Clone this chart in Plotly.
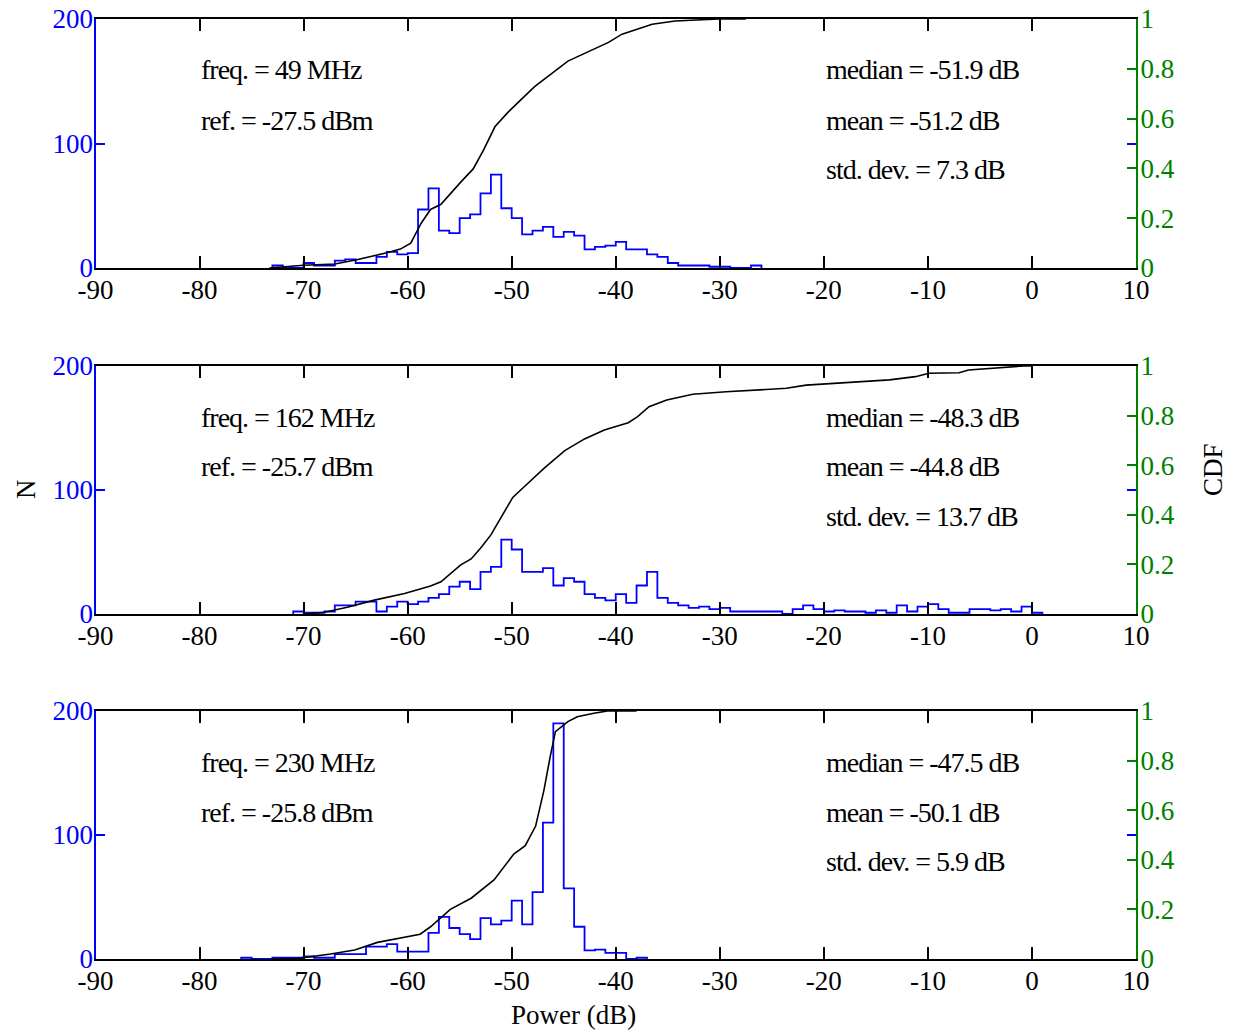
import numpy as np
import plotly.graph_objects as go

# ---------------- data ----------------
bin_width = 1.0
hist1_start = -73
hist1_counts = [2, 0, 0, 4, 2, 2, 6, 7, 4, 4, 9, 13, 11, 12, 47, 64, 30, 28, 40, 43, 60, 75,
                48, 40, 27, 30, 33, 25, 29, 26, 15, 17, 18, 21, 15, 15, 11, 9, 4, 2, 2, 2,
                1, 1, 0, 0, 2]
hist2_start = -71
hist2_counts = [2, 1, 1, 2, 7, 7, 10, 10, 2, 6, 10, 8, 10, 13, 16, 22, 26, 20, 34, 38, 60, 52,
                34, 34, 37, 23, 29, 26, 16, 13, 11, 16, 9, 23, 34, 13, 9, 7, 5, 6, 4, 5,
                2, 2, 2, 2, 2, 0, 4, 7, 4, 2, 3, 2, 2, 1, 3, 1, 7, 2, 6, 8, 4, 1, 1,
                4, 4, 3, 4, 2, 6, 1]
hist3_start = -76
hist3_counts = [1, 0, 0, 1, 1, 1, 2, 1, 1, 4, 4, 4, 10, 10, 12, 6, 6, 6, 21, 34, 25, 20, 16,
                33, 28, 31, 47, 28, 54, 110, 190, 57, 26, 7, 7.5, 5, 5, 0, 1]

cdf1_x = [-73.3, -70, -67, -65, -62, -60.7, -59.7, -58.7, -57.8, -56.8, -54.9, -53.7, -52.7,
          -51.6, -50.3, -47.8, -44.6, -42.6, -40.7, -39.4, -37.5, -36.5, -34.3, -32.4, -30.1, -27.5]
cdf1_y = [0, 0.011, 0.016, 0.032, 0.061, 0.076, 0.1, 0.18, 0.235, 0.256, 0.345, 0.398, 0.474,
          0.568, 0.628, 0.728, 0.831, 0.869, 0.906, 0.939, 0.965, 0.979, 0.992, 0.997, 1.0, 1.0]
cdf2_x = [-70, -68, -65.8, -63.2, -60.3, -57.8, -56.8, -54.9, -53.9, -53, -52, -51, -49.9, -48.8,
          -46.9, -44.9, -43, -41.1, -38.8, -37.9, -36.8, -35.1, -32.6, -29.4, -23.6, -21.7,
          -17.9, -13.7, -11.2, -9.9, -7, -6.1, -0.8, 0]
cdf2_y = [0, 0.007, 0.027, 0.056, 0.083, 0.113, 0.13, 0.198, 0.222, 0.265, 0.319, 0.392, 0.47,
          0.513, 0.587, 0.659, 0.706, 0.742, 0.771, 0.796, 0.836, 0.863, 0.886, 0.896, 0.91,
          0.923, 0.934, 0.944, 0.957, 0.971, 0.973, 0.984, 1.0, 1.0]
cdf3_x = [-73, -70.6, -67.4, -65.1, -62.9, -61.3, -58.8, -57.8, -55.9, -53.9, -51.7, -49.8, -48.7,
          -47.7, -46.9, -46.3, -45.8, -44.6, -43.7, -42.1, -40.8, -38]
cdf3_y = [0, 0.002, 0.02, 0.036, 0.067, 0.081, 0.1, 0.13, 0.2, 0.245, 0.319, 0.423, 0.457,
          0.536, 0.681, 0.816, 0.917, 0.957, 0.977, 0.991, 1.0, 1.0]

freq_labels = ["freq. = 49 MHz", "freq. = 162 MHz", "freq. = 230 MHz"]
ref_labels = ["ref. = -27.5 dBm", "ref. = -25.7 dBm", "ref. = -25.8 dBm"]
median_labels = ["median = -51.9 dB", "median = -48.3 dB", "median = -47.5 dB"]
mean_labels = ["mean = -51.2 dB", "mean = -44.8 dB", "mean = -50.1 dB"]
std_labels = ["std. dev. = 7.3 dB", "std. dev. = 13.7 dB", "std. dev. = 5.9 dB"]

x_tickvals = [-90, -80, -70, -60, -50, -40, -30, -20, -10, 0, 10]
x_ticktext = ["-90", "-80", "-70", "-60", "-50", "-40", "-30", "-20", "-10", "0", "10"]
n_tickvals = [0, 100, 200]
n_ticktext = ["0", "100", "200"]
cdf_tickvals = [0, 0.2, 0.4, 0.6, 0.8, 1.0]
cdf_ticktext = ["0", "0.2", "0.4", "0.6", "0.8", "1"]

# ---------------- figure ----------------
W, H = 1236, 1034
BLUE = "#0000ff"
GREEN = "#008000"
FONT = "Liberation Serif"
FS = 27
TXT_FS = 28


def tight(s):
    return f"<span style='letter-spacing:-1px'>{s}</span>"


def px_x(p):
    return p / W


def px_y(p):
    return 1 - p / H


x_dom = [px_x(95.5), px_x(1136)]
panel_px = [(19, 268), (366, 614), (711, 959)]
y_doms = [[px_y(b), px_y(t)] for (t, b) in panel_px]

hists = [(hist1_start, hist1_counts), (hist2_start, hist2_counts), (hist3_start, hist3_counts)]
cdfs = [(cdf1_x, cdf1_y), (cdf2_x, cdf2_y), (cdf3_x, cdf3_y)]

fig = go.Figure()
layout = dict(width=W, height=H, margin=dict(l=0, r=0, t=0, b=0, pad=0, autoexpand=False),
              plot_bgcolor="white", paper_bgcolor="white", showlegend=False,
              font=dict(family=FONT, size=FS, color="black"))

annotations = []
for i in range(3):
    xa = "x" if i == 0 else f"x{i + 1}"
    yl = "y" if i == 0 else f"y{2 * i + 1}"
    yr = f"y{2 * i + 2}"
    start, counts = hists[i]
    counts = list(counts)
    edges = start + bin_width * np.arange(len(counts) + 1)
    hx = [edges[0]] + list(edges) + [edges[-1]]
    hy = [0] + counts + [counts[-1]] + [0]
    fig.add_trace(go.Scatter(x=hx, y=hy, mode="lines", line=dict(color=BLUE, width=1.8, shape="hv"),
                             xaxis=xa, yaxis=yl, hoverinfo="skip"))
    cx, cy = cdfs[i]
    fig.add_trace(go.Scatter(x=cx, y=cy, mode="lines", line=dict(color="black", width=1.6),
                             xaxis=xa, yaxis=yr, hoverinfo="skip"))

    xkey = "xaxis" if i == 0 else f"xaxis{i + 1}"
    ylkey = "yaxis" if i == 0 else f"yaxis{2 * i + 1}"
    yrkey = f"yaxis{2 * i + 2}"
    layout[xkey] = dict(domain=x_dom, range=[-90, 10], anchor=yl, tickmode="array",
                        tickvals=x_tickvals, ticktext=x_ticktext, ticks="inside", ticklen=12,
                        tickwidth=1.5, tickcolor="black", showline=True, linecolor="black",
                        linewidth=2, mirror="ticks", showgrid=False, zeroline=False,
                        automargin=False, ticklabelstandoff=-3, ticklabeloverflow="allow",
                        tickfont=dict(family=FONT, size=FS, color="black"), fixedrange=True)
    layout[ylkey] = dict(domain=y_doms[i], range=[0, 200], anchor=xa, tickmode="array",
                         tickvals=n_tickvals, ticktext=n_ticktext, ticks="inside", ticklen=9,
                         tickwidth=1.5, tickcolor=BLUE, showline=True, linecolor=BLUE, linewidth=2,
                         mirror="ticks", showgrid=False, zeroline=False, automargin=False,
                         ticklabelstandoff=-5, ticklabeloverflow="allow",
                         tickfont=dict(family=FONT, size=FS, color=BLUE), fixedrange=True)
    layout[yrkey] = dict(domain=y_doms[i], range=[0, 1], anchor=xa, overlaying=yl, side="right",
                         tickmode="array", tickvals=cdf_tickvals, ticktext=cdf_ticktext,
                         ticks="inside", ticklen=9, tickwidth=1.5, tickcolor=GREEN, showline=True,
                         linecolor=GREEN, linewidth=2, showgrid=False, zeroline=False,
                         automargin=False, ticklabelstandoff=-3, ticklabeloverflow="allow",
                         tickfont=dict(family=FONT, size=FS, color=GREEN), fixedrange=True)

    top = panel_px[i][0]
    rows = [top + 51, top + 101, top + 150]
    for txt, ypx in [(freq_labels[i], rows[0]), (ref_labels[i], rows[1])]:
        annotations.append(dict(text=tight(txt), x=px_x(199), y=px_y(ypx), xref="paper", yref="paper",
                                xanchor="left", yanchor="middle", showarrow=False,
                                font=dict(family=FONT, size=TXT_FS, color="black")))
    for txt, ypx in [(median_labels[i], rows[0]), (mean_labels[i], rows[1]), (std_labels[i], rows[2])]:
        annotations.append(dict(text=tight(txt), x=px_x(824), y=px_y(ypx), xref="paper", yref="paper",
                                xanchor="left", yanchor="middle", showarrow=False,
                                font=dict(family=FONT, size=TXT_FS, color="black")))

annotations.append(dict(text="N", x=px_x(26), y=px_y(489), xref="paper", yref="paper",
                        textangle=-90, showarrow=False, xanchor="center", yanchor="middle",
                        font=dict(family=FONT, size=FS, color="black")))
annotations.append(dict(text="CDF", x=px_x(1213), y=px_y(470), xref="paper", yref="paper",
                        textangle=-90, showarrow=False, xanchor="center", yanchor="middle",
                        font=dict(family=FONT, size=FS, color="black")))
annotations.append(dict(text="Power (dB)", x=px_x(573), y=px_y(1015), xref="paper", yref="paper",
                        showarrow=False, xanchor="center", yanchor="middle",
                        font=dict(family=FONT, size=FS, color="black")))
layout["annotations"] = annotations
fig.update_layout(**layout)
fig.write_html("out.html", config={"displayModeBar": False},
               post_script="document.body.style.margin='0px';document.body.style.overflow='hidden';")
